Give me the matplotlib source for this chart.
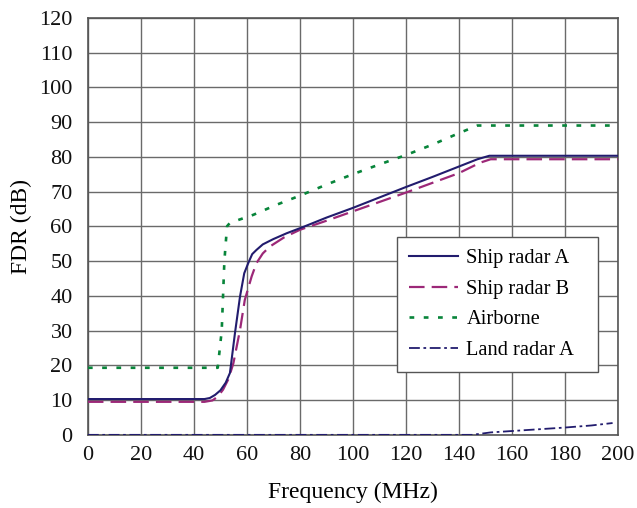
import matplotlib
matplotlib.use("Agg")
import matplotlib.pyplot as plt

# Frequency (MHz) / FDR (dB) curves
ship_a_freq = [0, 44, 46, 48, 50, 52, 53.6, 55.5, 57.4, 59, 60.5, 62, 63.6, 66, 69.9, 75, 81.2, 90, 100, 110, 120, 130, 140, 147, 151.5, 200]
ship_a_fdr = [10.3, 10.3, 10.6, 11.5, 12.8, 15.0, 17.8, 29.3, 39.8, 46.5, 49.4, 52.0, 53.2, 54.8, 56.3, 58.0, 59.8, 62.5, 65.3, 68.3, 71.3, 74.2, 77.2, 79.3, 80.3, 80.3]

ship_b_freq = [0, 44, 47, 49, 51, 53, 54.9, 57.4, 59.2, 61.8, 63.6, 66, 68.7, 74, 80, 90, 100, 110, 120, 130, 140, 148, 152, 200]
ship_b_fdr = [9.5, 9.5, 9.9, 11.0, 13.0, 16.0, 20.6, 30.2, 38.8, 45.6, 49.4, 52.2, 54.2, 56.8, 59.0, 61.6, 64.3, 67.0, 69.7, 72.5, 75.3, 78.3, 79.3, 79.3]

airborne_freq = [0, 49, 50.5, 51.5, 52.5, 53.6, 62.4, 71.2, 80.6, 90, 100, 110, 120, 130, 140, 147, 200]
airborne_fdr = [19.3, 19.3, 30.0, 50.0, 60.0, 61.0, 63.3, 66.2, 69.0, 72.0, 75.0, 77.8, 80.5, 83.5, 86.8, 89.0, 89.0]

land_a_freq = [0, 145, 152, 160, 170, 180, 190, 198]
land_a_fdr = [0.0, 0.0, 0.7, 1.1, 1.6, 2.1, 2.7, 3.4]

x_ticks = list(range(0, 201, 20))
y_ticks = list(range(0, 121, 10))

plt.rcParams["font.family"] = ["Liberation Serif", "DejaVu Serif"]

fig = plt.figure(figsize=(6.37, 5.08), dpi=100)
ax = fig.add_axes([0.138, 0.144, 0.832, 0.821])

ax.plot(ship_a_freq, ship_a_fdr, color="#221c6e", lw=1.5, label="Ship radar A", zorder=4)
ax.plot(ship_b_freq, ship_b_fdr, color="#9c2878", lw=1.6, dashes=(7, 3.2), label="Ship radar B", zorder=3)
ax.plot(airborne_freq, airborne_fdr, color="#08853a", lw=1.9, dashes=(1.8, 3.6), label="Airborne", zorder=3)
ax.plot(land_a_freq, land_a_fdr, color="#221c6e", lw=1.3, dashes=(6, 2, 1.5, 2), label="Land radar A", zorder=3)

ax.set_xlim(0, 200)
ax.set_ylim(0, 120)
ax.set_xticks(x_ticks)
ax.set_yticks(y_ticks)
ax.tick_params(length=0, labelsize=16, colors="#111111")
ax.tick_params(axis="x", pad=8)
ax.tick_params(axis="y", pad=11)
ax.grid(True, color="#6a6a6a", lw=1.0)
ax.set_axisbelow(True)
for s in ax.spines.values():
    s.set_color("#555555")
    s.set_linewidth(1.2)

ax.set_xlabel("Frequency (MHz)", fontsize=17, labelpad=12)
ax.set_ylabel("FDR (dB)", fontsize=17, labelpad=5)

leg = ax.legend(loc="upper left", bbox_to_anchor=(0.583, 0.144, 0.379, 0.331), mode="expand",
                fontsize=14.7, frameon=True, fancybox=False, handlelength=2.4,
                handletextpad=0.4, labelspacing=0.55, borderpad=0.6, borderaxespad=0)
leg.get_frame().set_edgecolor("#555555")
leg.get_frame().set_linewidth(1.0)
leg.get_frame().set_alpha(1)

fig.savefig("out.png", dpi=100)
